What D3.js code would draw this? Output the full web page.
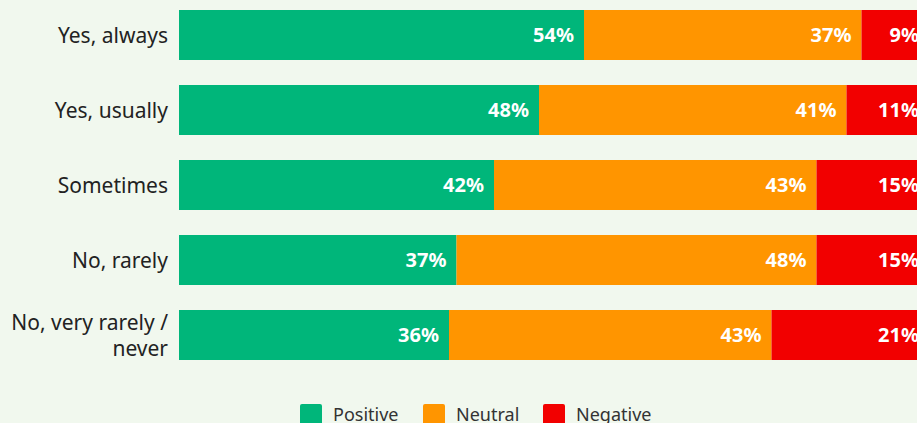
<!DOCTYPE html>
<html>
<head>
<meta charset="utf-8">
<script src="https://cdn.jsdelivr.net/npm/d3@7"></script>
<style>
  html, body { margin: 0; padding: 0; background: #f1f8ee; overflow: hidden; }
  text { font-family: "Noto Sans", sans-serif; }
</style>
</head>
<body>
<div id="chart"></div>
<script>
var width = 917,
    height = 423;

var categories = ["Yes, always", "Yes, usually", "Sometimes", "No, rarely", "No, very rarely / never"];
var series = ["Positive", "Neutral", "Negative"];
var positive = [54, 48, 42, 37, 36];
var neutral = [37, 41, 43, 48, 43];
var negative = [9, 11, 15, 15, 21];

var colors = { Positive: "#00b67a", Neutral: "#ff9500", Negative: "#f20000" };

// rows for the stack
var rows = categories.map(function(c, i) {
  return { category: c, Positive: positive[i], Neutral: neutral[i], Negative: negative[i] };
});
var stacked = d3.stack().keys(series)(rows);

var svg = d3.select("#chart").append("svg")
    .attr("width", width)
    .attr("height", height);

// bar area runs past the right edge, like the reference crop
var x = d3.scaleLinear().domain([0, 100]).range([179, 929]);
var y = d3.scaleBand().domain(categories).range([-2.5, 372.5]).paddingInner(1 / 3).paddingOuter(1 / 6);

var layer = svg.selectAll("g.layer")
    .data(stacked)
  .enter().append("g")
    .attr("class", "layer")
    .style("fill", function(d) { return colors[d.key]; });

layer.selectAll("rect")
    .data(function(d) { return d; })
  .enter().append("rect")
    .attr("x", function(d) { return x(d[0]); })
    .attr("y", function(d) { return y(d.data.category); })
    .attr("width", function(d) { return x(d[1]) - x(d[0]); })
    .attr("height", y.bandwidth());

layer.selectAll("text")
    .data(function(d) { return d; })
  .enter().append("text")
    .attr("x", function(d) { return x(d[1]) - 10; })
    .attr("y", function(d) { return y(d.data.category) + y.bandwidth() / 2; })
    .attr("dy", "0.36em")
    .attr("text-anchor", "end")
    .style("fill", "#fff")
    .style("font-weight", "bold")
    .style("font-size", "20px")
    .text(function(d) { return (d[1] - d[0]) + "%"; });

// category labels, long one wraps onto two lines
var wrapLabel = { "No, very rarely / never": ["No, very rarely /", "never"] };
var label = svg.append("g").selectAll("text")
    .data(categories)
  .enter().append("text")
    .attr("text-anchor", "end")
    .style("fill", "#222")
    .style("font-size", "21px")
    .attr("y", function(d) { return y(d) + y.bandwidth() / 2; });

label.each(function(d) {
  var lines = wrapLabel[d] || [d];
  var t = d3.select(this);
  lines.forEach(function(line, i) {
    t.append("tspan")
      .attr("x", 168)
      .attr("dy", i == 0 ? (0.36 - (lines.length - 1) * 0.62) + "em" : "1.24em")
      .text(line);
  });
});

// legend
var legendPos = { Positive: 300, Neutral: 423, Negative: 543 };
var legend = svg.append("g").selectAll("g")
    .data(series)
  .enter().append("g")
    .attr("transform", function(d) { return "translate(" + legendPos[d] + ",404)"; });

legend.append("rect")
    .attr("width", 22)
    .attr("height", 22)
    .attr("rx", 2)
    .style("fill", function(d) { return colors[d]; });

legend.append("text")
    .attr("x", 33)
    .attr("y", 17)
    .style("fill", "#333")
    .style("font-size", "18px")
    .text(function(d) { return d; });
</script>
</body>
</html>
